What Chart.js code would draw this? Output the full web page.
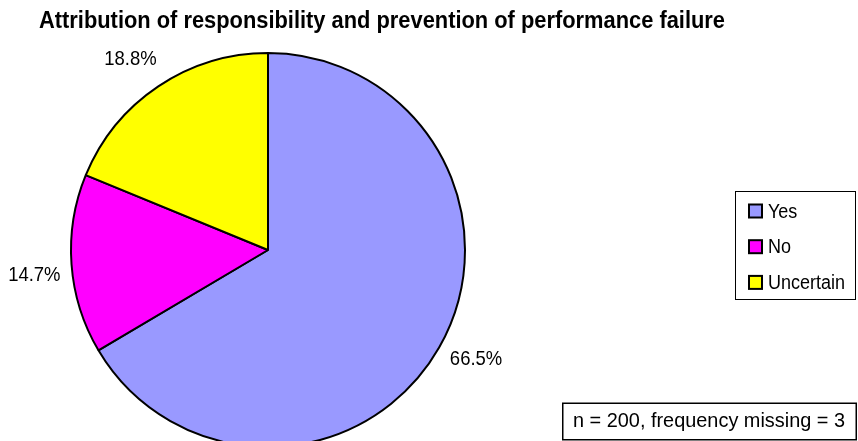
<!DOCTYPE html>
<html>
<head>
<meta charset="utf-8">
<script src="https://cdn.jsdelivr.net/npm/chart.js@4/dist/chart.umd.min.js"></script>
<style>
  html, body { margin: 0; padding: 0; background: #fff; overflow: hidden; }
  #wrap { position: relative; width: 858px; height: 441px; overflow: hidden; }
  #c { position: absolute; left: 0; top: 0; }
</style>
</head>
<body>
<div id="wrap"><canvas id="c" width="858" height="470"></canvas></div>
<script>
// Survey answers and their shares (%)
const categories = ['Yes', 'No', 'Uncertain'];
const shares = [66.5, 14.7, 18.8];
const sliceColors = ['#9999FF', '#FF00FF', '#FFFF00'];
const chartTitle = 'Attribution of responsibility and prevention of performance failure';
const sampleNote = 'n = 200, frequency missing = 3';

const FONT = '"Liberation Sans", Arial, Helvetica, sans-serif';

// Draw text squeezed horizontally (narrow Helvetica look)
function narrowText(ctx, text, x, y, font, sx, align) {
  ctx.save();
  ctx.font = font;
  ctx.fillStyle = '#000';
  ctx.textBaseline = 'middle';
  const w = ctx.measureText(text).width * sx;
  let left = x;
  if (align === 'center') left = x - w / 2;
  else if (align === 'right') left = x - w;
  ctx.translate(left, y);
  ctx.scale(sx, 1);
  ctx.textAlign = 'left';
  ctx.fillText(text, 0, 0);
  ctx.restore();
  return w;
}

function widthOf(ctx, text, font) {
  ctx.save();
  ctx.font = font;
  const w = ctx.measureText(text).width;
  ctx.restore();
  return w;
}

const decorations = {
  id: 'decorations',
  afterDraw(chart) {
    const ctx = chart.ctx;
    const meta = chart.getDatasetMeta(0);
    const ds = chart.data.datasets[0];

    // title, fitted to its line
    const titleFont = 'bold 23px ' + FONT;
    narrowText(ctx, chartTitle, 39, 22, titleFont, 686 / widthOf(ctx, chartTitle, titleFont), 'left');

    // percentage labels outside each slice
    const labelFont = '21px ' + FONT;
    const turn = -2 * Math.PI / 180;
    meta.data.forEach((arc, i) => {
      const mid = (arc.startAngle + arc.endAngle) / 2 + turn;
      const r = arc.outerRadius + 38;
      const x = arc.x + Math.cos(mid) * r;
      const y = arc.y + Math.sin(mid) * r;
      narrowText(ctx, ds.data[i].toFixed(1) + '%', x, y, labelFont, 0.88, 'center');
    });

    // legend box
    ctx.save();
    ctx.strokeStyle = '#000';
    ctx.lineWidth = 1;
    ctx.strokeRect(735.5, 191.5, 120, 108);
    ctx.restore();
    chart.data.labels.forEach((lab, i) => {
      const y = 211 + i * 35.7;
      ctx.save();
      ctx.fillStyle = ds.backgroundColor[i];
      ctx.fillRect(749, y - 6.5, 13, 13);
      ctx.strokeStyle = '#000';
      ctx.lineWidth = 2;
      ctx.strokeRect(749, y - 6.5, 13, 13);
      ctx.restore();
      narrowText(ctx, lab, 768, y + 1, '20px ' + FONT, 0.9, 'left');
    });

    // sample size note
    ctx.save();
    ctx.strokeStyle = '#000';
    ctx.lineWidth = 1.5;
    ctx.strokeRect(562.75, 403.25, 293.5, 36.5);
    ctx.restore();
    const noteFont = '21px ' + FONT;
    narrowText(ctx, sampleNote, 709, 421, noteFont, 272 / widthOf(ctx, sampleNote, noteFont), 'center');
  }
};

new Chart(document.getElementById('c'), {
  type: 'pie',
  data: {
    labels: categories,
    datasets: [{
      data: shares,
      backgroundColor: sliceColors,
      borderColor: '#000000',
      borderWidth: 2
    }]
  },
  options: {
    responsive: false,
    animation: false,
    devicePixelRatio: 1,
    layout: { padding: { left: 70, top: 52, right: 392, bottom: 22 } },
    plugins: {
      legend: { display: false },
      title: { display: false },
      tooltip: { enabled: false }
    }
  },
  plugins: [decorations]
});
</script>
</body>
</html>
